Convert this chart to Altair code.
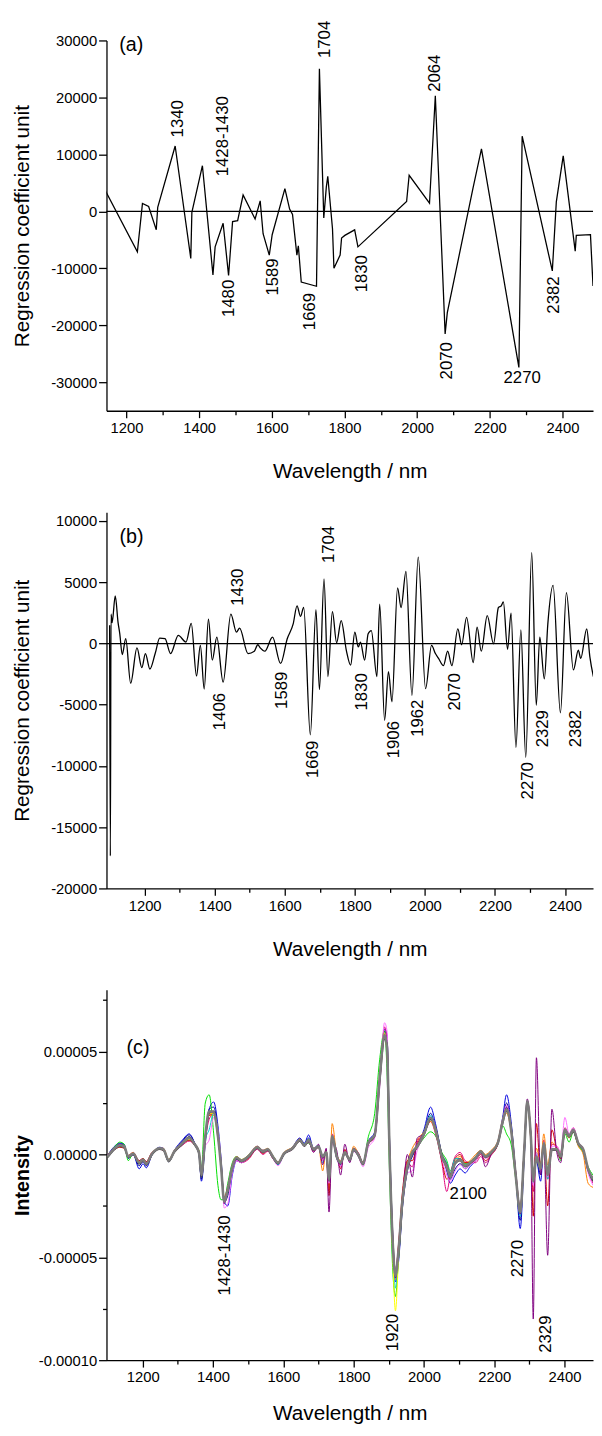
import altair as alt
import pandas as pd

FONT = "Liberation Sans"
MINUS = "\u2212"

# ---------------- Panel (a) ----------------
A_WL = [1140, 1230, 1244, 1261, 1282, 1286, 1334, 1377, 1380, 1409,
        1438, 1444, 1466, 1481, 1492, 1506, 1521, 1554, 1568, 1576,
        1593, 1601, 1636, 1649, 1657, 1669, 1673, 1681, 1723, 1731,
        1743, 1750, 1754, 1767, 1771, 1788, 1792, 1801, 1828, 1837,
        1971, 1978, 2034, 2050, 2077, 2083, 2154, 2177, 2280, 2289,
        2372, 2383, 2402, 2435, 2438, 2477, 2484]
A_VAL = [3860, -7090, 1380, 860, -3240, 690, 11470, -8250, -170, 8010,
         -11140, -6230, -2080, -11250, -1800, -1630, 2870, -1330, 1840, -3930,
         -7680, -4100, 3980, 400, -520, -7680, -6060, -12400, -13150, 25020,
         -1160, 4260, 6160, -3060, -9980, -7680, -4670, -4220, -3240, -6230,
         1730, 6330, 1440, 20290, -21500, -17770, 4150, 10950, -27400, 13200,
         -10450, 1670, 9740, -6980, -4220, -4100, -13100]
A_UP = [("1340", 1343, 12980), ("1428-1430", 1465, 6160),
        ("1704", 1747, 26920), ("2064", 2050, 20980)]
A_DOWN = [("1480", 1482, -12010), ("1589", 1604, -8250), ("1669", 1706, -14310),
          ("1830", 1848, -7680), ("2070", 2083, -22960), ("2382", 2378, -11420)]
A_FLAT = [("2270", 2289, -29300)]
A_TAG = [("(a)", 1180, 29240)]

# ---------------- Panel (b) ----------------
B_WL = [1100, 1102, 1104, 1107, 1116, 1124, 1129, 1136, 1146, 1160,
        1178, 1192, 1202, 1215, 1230, 1243, 1258, 1274, 1296, 1318,
        1333, 1348, 1359, 1370, 1382, 1393, 1406, 1424, 1446, 1462,
        1471, 1495, 1513, 1523, 1530, 1543, 1565, 1588, 1607, 1624,
        1635, 1645, 1654, 1673, 1689, 1699, 1712, 1723, 1736, 1748,
        1761, 1776, 1788, 1800, 1810, 1816, 1828, 1838, 1847, 1863,
        1871, 1885, 1896, 1906, 1922, 1932, 1946, 1963, 1981, 2002,
        2019, 2030, 2039, 2053, 2065, 2077, 2094, 2105, 2119, 2138,
        2149, 2161, 2178, 2196, 2210, 2218, 2224, 2236, 2246, 2260,
        2274, 2288, 2305, 2318, 2328, 2341, 2351, 2366, 2387, 2404,
        2424, 2438, 2445, 2462, 2471, 2481]
B_VAL = [1500, -17350, 2400, 1700, 3880, 1730, 790, -900, 390, -3240,
         -360, -1970, -820, -2080, -820, 440, 390, -820, 660, 120,
         1650, -2650, -150, -3720, 2000, -1350, 520, -3160, 2400, 930,
         1250, -820, -630, -100, -360, -630, 520, -1630, 390, 1600,
         3080, 2220, 2940, -7460, 2760, -3770, 5280, -2700, 2600, 60,
         1870, -600, -1760, 930, -280, 120, -1350, 790, 1060, -2700,
         3210, -6270, -2300, -4770, 4550, 2940, 5900, -4230, 7050, -3690,
         -150, -820, -1220, -1810, -630, -1810, 1190, -100, 2140, -1550,
         1330, -630, 2270, -20, 2940, 3080, 3400, -470, 2480, -8480,
         1110, -9290, 7430, -5040, 520, -2890, 1600, 4740, -5660, 4150,
         -2160, -550, -1220, 1190, -1090, -2700]
B_UP = [("1704", 1726, 6570), ("1430", 1467, 3080)]
B_DOWN = [("1406", 1415, -4040), ("1589", 1591, -2300), ("1669", 1682, -7940),
          ("1830", 1822, -2430), ("1906", 1911, -6330), ("1962", 1981, -4580),
          ("2070", 2087, -2430), ("2270", 2296, -9690), ("2329", 2338, -5440),
          ("2382", 2432, -5440)]
B_TAG = [("(b)", 1128, 8720)]

# ---------------- Panel (c) ----------------  (values in units of 1e-5)
C_WL = [1100, 1117, 1135, 1147, 1159, 1173, 1190, 1201, 1210, 1227,
        1248, 1259, 1274, 1290, 1313, 1332, 1348, 1360, 1367, 1378,
        1389, 1402, 1414, 1423, 1432, 1442, 1455, 1467, 1481, 1500,
        1526, 1542, 1556, 1570, 1585, 1602, 1626, 1647, 1660, 1672,
        1686, 1700, 1712, 1722, 1730, 1739, 1752, 1763, 1775, 1789,
        1800, 1813, 1827, 1841, 1860, 1874, 1888, 1895, 1902, 1911,
        1919, 1928, 1939, 1953, 1967, 1981, 2000, 2019, 2033, 2051,
        2065, 2075, 2089, 2103, 2117, 2131, 2147, 2162, 2175, 2191,
        2210, 2224, 2235, 2248, 2261, 2274, 2285, 2294, 2304, 2311,
        2320, 2332, 2341, 2352, 2364, 2378, 2389, 2401, 2413, 2425,
        2439, 2453, 2467, 2481]
C_SERIES = {
    "blue": [
        -0.05, 0.35, 0.55, 0.50, -0.20, 0.00, -0.70, -0.45, -0.65, 0.00,
        0.35, 0.30, -0.35, 0.20, 0.70, 1.00, 0.55, 0.00, -1.30, 0.50,
        2.20, 2.55, 1.40, -0.20, -2.30, -2.50, -1.00, -0.30, -0.40, -0.15,
        0.40, 0.20, 0.25, -0.15, -0.50, 0.00, 0.35, 0.80, 0.55, 0.95,
        0.30, 0.45, -0.20, 0.05, -1.30, 0.85, -0.20, -0.50, 0.05, -0.30,
        0.20, -0.05, -0.50, 0.60, 1.10, 3.60, 6.10, 5.80, 0.90, -3.80,
        -6.20, -5.20, -2.60, -0.80, -0.10, 0.40, 1.20, 2.30, 1.50, 0.00,
        -0.80, -1.40, -1.00, -0.70, -0.90, -0.60, -0.30, 0.10, -0.15, 0.05,
        0.60, 1.80, 2.90, 1.60, -0.90, -3.60, -0.30, 2.40, 1.00, -1.10,
        -0.30, -1.30, 0.40, -1.00, 0.20, 0.30, -0.20, 1.10, 0.85, 1.10,
        0.50, 0.20, -0.80, -1.30],
    "navy": [
        -0.10, 0.30, 0.50, 0.45, -0.15, 0.00, -0.55, -0.35, -0.55, 0.00,
        0.30, 0.25, -0.35, 0.15, 0.65, 0.95, 0.55, 0.05, -1.20, 0.70,
        2.20, 2.30, 1.10, -0.40, -2.30, -2.00, -0.80, -0.25, -0.35, -0.15,
        0.35, 0.15, 0.20, -0.15, -0.45, 0.00, 0.30, 0.75, 0.50, 0.80,
        0.25, 0.40, -0.15, 0.05, -1.30, 0.85, -0.15, -0.45, 0.05, -0.30,
        0.20, -0.05, -0.45, 0.60, 1.00, 3.70, 6.00, 5.50, 0.60, -4.00,
        -6.00, -5.00, -2.40, -0.70, -0.05, 0.40, 1.10, 2.00, 1.30, 0.00,
        -0.70, -1.20, -0.70, -0.45, -0.70, -0.50, -0.20, 0.10, -0.15, 0.05,
        0.55, 1.70, 2.50, 1.40, -1.00, -3.20, -0.10, 2.50, 1.00, -1.20,
        -0.20, -1.00, 0.45, -1.00, 0.20, 0.25, -0.15, 1.10, 0.85, 1.10,
        0.50, 0.20, -0.80, -1.30],
    "green": [
        -0.10, 0.30, 0.60, 0.50, -0.30, 0.05, -0.35, -0.20, -0.40, 0.05,
        0.30, 0.25, -0.25, 0.15, 0.50, 0.70, 0.45, 0.20, -0.70, 2.50,
        2.90, 1.00, -1.50, -2.20, -2.20, -1.40, -0.40, -0.10, -0.25, -0.05,
        0.35, 0.15, 0.25, -0.05, -0.35, 0.05, 0.30, 0.65, 0.45, 0.55,
        0.25, 0.35, -0.05, 0.10, -1.00, 0.80, -0.05, -0.35, 0.10, -0.20,
        0.30, 0.05, -0.40, 0.80, 2.00, 4.60, 6.00, 4.00, -0.80, -5.50,
        -6.90, -5.00, -2.40, -0.50, 0.15, 0.35, 0.80, 1.10, 0.90, 0.10,
        -0.30, -0.80, -0.20, -0.20, -0.45, -0.35, -0.10, 0.15, -0.05, 0.10,
        0.60, 1.40, 1.00, 0.50, -1.20, -2.90, 0.20, 2.50, 0.80, -0.90,
        0.10, -0.50, 0.45, -0.70, 0.25, 0.30, -0.30, 1.00, 0.60, 1.10,
        0.45, 0.10, -0.60, -1.00],
    "deeppink": [
        -0.05, 0.20, 0.40, 0.35, -0.05, 0.10, -0.30, -0.20, -0.35, 0.10,
        0.25, 0.20, -0.30, 0.10, 0.45, 0.65, 0.45, 0.15, -0.90, 0.70,
        1.70, 2.00, 1.00, -0.50, -2.10, -1.60, -0.70, -0.30, -0.40, -0.25,
        0.25, 0.00, 0.15, -0.20, -0.45, 0.00, 0.25, 0.65, 0.40, 0.60,
        0.15, 0.35, -0.20, 0.20, -1.50, 1.00, 0.00, -0.60, 0.20, -0.30,
        0.30, 0.10, -0.40, 0.45, 0.85, 3.40, 6.20, 5.60, 0.50, -4.00,
        -5.60, -4.40, -2.00, -0.40, -0.60, 0.60, 1.00, 1.60, 1.00, -0.40,
        -1.80, -1.00, -0.10, 0.10, -0.30, -0.40, -0.40, -0.10, -0.40, -0.05,
        0.50, 1.60, 2.30, 1.30, -0.80, -2.60, 0.20, 2.50, 1.00, -1.80,
        0.00, -0.60, 0.70, -1.20, 0.50, 0.40, 0.10, 1.30, 1.00, 1.30,
        0.60, 0.30, -0.80, -1.40],
    "orange": [
        -0.05, 0.30, 0.45, 0.40, -0.05, 0.10, -0.35, -0.20, -0.40, 0.10,
        0.30, 0.30, -0.25, 0.20, 0.55, 0.75, 0.50, 0.15, -0.80, 0.90,
        1.90, 1.90, 0.80, -0.50, -2.10, -1.60, -0.50, -0.10, -0.25, -0.05,
        0.40, 0.20, 0.30, -0.05, -0.35, 0.10, 0.35, 0.75, 0.45, 0.70,
        0.30, 0.40, -0.80, 0.20, -1.80, 1.50, 0.00, -0.30, 0.15, -0.20,
        0.40, 0.05, -0.40, 0.55, 1.00, 3.80, 5.70, 5.00, 0.20, -4.40,
        -6.10, -4.50, -2.00, -0.40, 0.30, 0.70, 1.10, 1.60, 1.10, -0.10,
        -0.70, -0.90, -0.30, -0.10, -0.40, -0.30, 0.00, 0.20, 0.00, 0.20,
        0.65, 1.70, 2.00, 1.10, -1.10, -2.70, 0.20, 2.50, 0.70, -1.00,
        0.30, -0.40, 1.00, -0.50, 0.60, 0.30, 0.10, 1.10, 0.80, 1.10,
        0.40, 0.00, -1.40, -1.60],
    "red": [
        -0.05, 0.20, 0.35, 0.30, -0.05, 0.05, -0.30, -0.20, -0.35, 0.10,
        0.25, 0.20, -0.25, 0.15, 0.50, 0.70, 0.45, 0.10, -0.90, 0.85,
        1.90, 2.00, 0.95, -0.50, -2.20, -1.65, -0.65, -0.20, -0.35, -0.20,
        0.30, 0.05, 0.20, -0.15, -0.40, 0.05, 0.30, 0.65, 0.45, 0.65,
        0.20, 0.40, -0.30, 0.20, -2.00, 0.70, 0.05, -0.70, 0.25, -0.30,
        0.25, 0.05, -0.40, 0.50, 0.90, 3.50, 5.70, 5.30, 0.40, -4.10,
        -5.80, -4.30, -1.80, -0.30, -0.30, 0.50, 1.00, 1.70, 1.10, -0.30,
        -1.20, -1.00, -0.20, 0.00, -0.40, -0.40, -0.30, 0.00, -0.30, 0.00,
        0.50, 1.60, 2.20, 1.20, -1.00, -2.70, 0.20, 2.60, 0.70, -3.00,
        1.50, -0.80, 0.50, -2.50, 1.20, 0.20, -0.20, 1.20, 0.90, 1.20,
        0.55, 0.25, -0.70, -1.20],
    "cyan": [
        -0.10, 0.30, 0.45, 0.40, -0.15, 0.05, -0.45, -0.30, -0.45, 0.05,
        0.30, 0.25, -0.30, 0.15, 0.60, 0.85, 0.50, 0.05, -1.10, 0.70,
        1.20, 2.00, 1.10, -0.40, -2.20, -1.80, -0.70, -0.20, -0.30, -0.10,
        0.35, 0.15, 0.25, -0.10, -0.50, 0.00, 0.30, 0.70, 0.50, 0.75,
        0.25, 0.40, -0.40, 0.10, -1.30, 0.85, -0.10, -0.45, 0.10, -0.25,
        0.25, 0.00, -0.45, 0.55, 0.95, 3.60, 5.90, 5.30, 0.40, -4.20,
        -6.50, -4.80, -2.20, -0.60, 0.00, 0.40, 1.00, 1.90, 1.20, 0.00,
        -0.40, -0.90, -0.20, -0.20, -0.50, -0.40, -0.15, 0.15, -0.10, 0.10,
        0.55, 1.60, 2.30, 1.30, -1.00, -3.00, 0.00, 2.60, 0.90, -1.40,
        0.00, -0.80, 0.50, -1.20, 0.30, 0.25, -0.10, 1.20, 0.90, 1.20,
        0.55, 0.25, -0.80, -1.30],
    "violet": [
        -0.05, 0.25, 0.40, 0.35, -0.10, 0.05, -0.40, -0.25, -0.45, 0.05,
        0.30, 0.25, -0.30, 0.15, 0.55, 0.80, 0.50, 0.10, -1.00, 0.40,
        0.70, 1.80, 1.20, -0.30, -2.60, -2.40, -0.90, -0.30, -0.40, -0.15,
        0.30, 0.10, 0.20, -0.15, -0.55, 0.00, 0.25, 0.70, 0.40, 0.70,
        0.20, 0.40, -0.30, 0.10, -1.40, 0.70, -0.20, -0.60, 0.10, -0.35,
        0.15, -0.10, -0.60, 0.30, 0.80, 3.20, 6.40, 6.00, 0.80, -3.80,
        -5.60, -4.60, -2.40, -0.90, -0.80, 0.20, 0.90, 1.80, 1.30, -0.20,
        -1.00, -1.30, -0.80, -0.50, -0.70, -0.50, -0.30, 0.05, -0.20, 0.05,
        0.60, 1.70, 2.40, 1.30, -0.90, -2.90, 0.00, 2.60, 1.00, -1.50,
        0.10, -0.80, 0.60, -1.10, 0.40, 0.40, 0.10, 1.80, 1.00, 1.30,
        0.60, 0.20, -0.90, -1.50],
    "purple": [
        0.00, 0.25, 0.50, 0.40, -0.10, 0.05, -0.45, -0.30, -0.45, 0.05,
        0.30, 0.25, -0.30, 0.15, 0.60, 0.85, 0.50, 0.10, -1.10, 0.80,
        2.00, 2.10, 0.90, -0.60, -2.40, -1.80, -0.60, -0.15, -0.30, -0.10,
        0.35, 0.15, 0.25, -0.10, -0.45, 0.05, 0.30, 0.70, 0.40, 0.60,
        0.10, 0.50, -0.50, 0.30, -2.80, 0.60, 0.20, -1.00, 0.50, -0.40,
        0.30, 0.05, -0.45, 0.50, 0.90, 3.60, 5.90, 5.30, 0.40, -4.20,
        -6.00, -4.70, -2.20, 0.00, -1.10, 0.80, 1.00, 1.70, 1.20, -0.20,
        -0.60, -1.10, -0.40, -0.20, -0.60, -0.40, -0.20, 0.10, -0.60, 0.00,
        0.55, 1.60, 2.30, 1.20, -1.00, -2.90, 0.30, 2.70, 0.50, -8.00,
        4.70, -1.00, 0.50, -4.90, 2.20, 0.10, -0.40, 1.20, 0.90, 1.20,
        0.55, 0.25, -0.70, -1.20],
    "yellow": [
        -0.10, 0.25, 0.40, 0.35, -0.10, 0.05, -0.35, -0.25, -0.40, 0.05,
        0.30, 0.25, -0.30, 0.15, 0.55, 0.75, 0.50, 0.15, -0.90, 0.90,
        2.00, 2.00, 0.90, -0.55, -2.20, -1.70, -0.60, -0.15, -0.30, -0.10,
        0.35, 0.15, 0.25, -0.10, -0.40, 0.05, 0.30, 0.70, 0.45, 0.65,
        0.25, 0.40, -0.10, 0.10, -1.10, 0.90, -0.10, -0.40, 0.10, -0.25,
        0.25, 0.00, -0.45, 0.55, 1.00, 3.80, 5.90, 5.00, 0.00, -4.80,
        -7.60, -5.00, -2.30, -0.60, 0.10, 0.40, 0.95, 1.70, 1.10, -0.10,
        -0.50, -1.00, -0.40, -0.30, -0.55, -0.40, -0.15, 0.15, -0.10, 0.10,
        0.55, 1.60, 2.10, 1.20, -1.00, -2.70, 0.10, 2.50, 0.90, -1.20,
        -0.10, -0.70, 0.55, -1.00, 0.25, 0.25, -0.10, 1.20, 0.90, 1.20,
        0.55, 0.25, -0.70, -1.20],
}
C_COLORS = {"blue": "#0000E0", "navy": "#000090", "green": "#00E000",
            "deeppink": "#E0007A", "orange": "#FF8000", "red": "#D00000",
            "cyan": "#00D0D0", "violet": "#FF70FF", "purple": "#800080",
            "yellow": "#FFFF00"}
C_DARK = [
    -0.15, 0.20, 0.40, 0.35, -0.15, 0.00, -0.45, -0.30, -0.50, 0.00,
    0.25, 0.20, -0.35, 0.10, 0.50, 0.85, 0.45, 0.05, -1.10, 0.80,
    2.00, 2.10, 1.00, -0.50, -2.20, -1.80, -0.70, -0.20, -0.35, -0.15,
    0.30, 0.10, 0.20, -0.15, -0.45, 0.00, 0.25, 0.65, 0.40, 0.65,
    0.20, 0.35, -0.15, 0.05, -1.30, 0.80, -0.15, -0.45, 0.05, -0.30,
    0.20, -0.05, -0.50, 0.50, 0.90, 3.50, 5.60, 5.40, 0.60, -3.90,
    -5.70, -4.80, -2.40, -0.70, 0.00, 0.35, 0.95, 1.70, 1.30, 0.00,
    -0.50, -1.00, -0.45, -0.30, -0.60, -0.45, -0.20, 0.10, -0.15, 0.05,
    0.50, 1.50, 2.10, 1.30, -0.90, -2.70, 0.00, 2.50, 1.00, -1.20,
    -0.20, -0.60, 0.45, -0.90, 0.20, 0.20, -0.15, 1.10, 0.85, 1.10,
    0.50, 0.20, -0.75, -1.30]
C_GRAY = [
    -0.10, 0.25, 0.45, 0.40, -0.10, 0.05, -0.40, -0.25, -0.45, 0.05,
    0.30, 0.25, -0.30, 0.15, 0.55, 0.80, 0.50, 0.10, -1.00, 0.90,
    2.10, 2.05, 0.90, -0.60, -2.30, -1.70, -0.60, -0.15, -0.30, -0.10,
    0.35, 0.15, 0.25, -0.10, -0.40, 0.05, 0.30, 0.70, 0.45, 0.70,
    0.25, 0.40, -0.10, 0.10, -1.20, 0.90, -0.10, -0.40, 0.10, -0.25,
    0.25, 0.00, -0.45, 0.55, 0.95, 3.70, 5.80, 5.20, 0.30, -4.20,
    -5.90, -4.60, -2.20, -0.60, 0.10, 0.40, 1.00, 1.80, 1.20, -0.10,
    -0.60, -1.10, -0.40, -0.25, -0.55, -0.40, -0.15, 0.15, -0.10, 0.10,
    0.55, 1.60, 2.20, 1.20, -1.00, -2.80, 0.10, 2.60, 0.90, -1.30,
    -0.10, -0.70, 0.55, -1.00, 0.25, 0.25, -0.10, 1.20, 0.90, 1.20,
    0.55, 0.25, -0.70, -1.20]
C_UNIT = 1e-5
C_DOWN = [("1428-1430", 1434, -2.96), ("1920", 1911, -7.75),
          ("2270", 2268, -4.16), ("2329", 2347, -7.83)]
C_FLAT = [("2100", 2126, -1.92)]
C_TAG = [("(c)", 1154, 5.19)]

X_TICKS = list(range(1200, 2401, 100))
W = 494


def ann_df(rows, scale=1.0):
    return pd.DataFrame({"label": [r[0] for r in rows],
                         "wl": [r[1] for r in rows],
                         "val": [r[2] * scale for r in rows]})


def text_layer(rows, align, angle, size=17, scale=1.0):
    return alt.Chart(ann_df(rows, scale)).mark_text(
        align=align, baseline="middle", angle=angle, fontSize=size,
        font=FONT, color="black").encode(x="wl:Q", y="val:Q", text="label:N")


def cond_size(test, major, minor):
    return {"condition": {"test": test, "value": major}, "value": minor}


def x_enc(dom, title_pad):
    return alt.X("wl:Q", scale=alt.Scale(domain=dom, nice=False, zero=False),
                 axis=alt.Axis(values=X_TICKS, format="d", title="Wavelength / nm",
                               labelExpr="datum.value % 200 === 0 ? datum.label : ''",
                               tickSize=cond_size("datum.value % 200 === 0", 7, 4),
                               labelPadding=3, titlePadding=title_pad))


def y_int_axis(step_major, step_minor, lo, hi, title, tpad):
    return alt.Axis(values=list(range(lo, hi + 1, step_minor)), format="d",
                    labelExpr="datum.value %% %d === 0 ? replace(datum.label, '%s', '-') : ''" % (step_major, MINUS),
                    tickSize=cond_size("datum.value %% %d === 0" % step_major, 8, 4),
                    labelPadding=2, title=title, titlePadding=tpad)


# ---- panel (a)
a_df = pd.DataFrame({"wl": A_WL, "val": A_VAL})
a_y = alt.Y("val:Q", scale=alt.Scale(domain=[-35000, 30000], nice=False, zero=False),
            axis=y_int_axis(10000, 5000, -30000, 30000, "Regression coefficient unit", 18))
a_line = alt.Chart(a_df).mark_line(color="black", strokeWidth=1.3, clip=True).encode(
    x=x_enc([1145, 2484], 26), y=a_y)
a_zero = alt.Chart(pd.DataFrame({"val": [0]})).mark_rule(color="black", strokeWidth=1.3).encode(y="val:Q")
panel_a = alt.layer(
    a_line, a_zero,
    text_layer(A_UP, "left", 270), text_layer(A_DOWN, "right", 270),
    text_layer(A_FLAT, "center", 0), text_layer(A_TAG, "left", 0, size=20),
).properties(width=W, height=376)

# ---- panel (b)
b_df = pd.DataFrame({"wl": B_WL, "val": B_VAL})
b_y = alt.Y("val:Q", scale=alt.Scale(domain=[-20000, 10723], nice=False, zero=False),
            axis=y_int_axis(5000, 2500, -20000, 10000, "Regression coefficient unit", 18))
b_line = alt.Chart(b_df).mark_line(color="black", strokeWidth=1.3, clip=True,
                                   interpolate="monotone").encode(
    x=x_enc([1091, 2480], 26), y=b_y)
b_zero = alt.Chart(pd.DataFrame({"val": [0]})).mark_rule(color="black", strokeWidth=1.3).encode(y="val:Q")
panel_b = alt.layer(
    b_line, b_zero,
    text_layer(B_UP, "left", 270), text_layer(B_DOWN, "right", 270),
    text_layer(B_TAG, "left", 0, size=20),
).properties(width=W, height=382)

# ---- panel (c)
rows = []
for name, vals in C_SERIES.items():
    for w, v in zip(C_WL, vals):
        rows.append({"wl": w, "val": v * C_UNIT, "series": name})
c_df = pd.DataFrame(rows)
names = list(C_SERIES.keys())
c_y = alt.Y("val:Q", scale=alt.Scale(domain=[-0.0001, 0.00008], nice=False, zero=False),
            axis=alt.Axis(values=[-0.0001, -0.000075, -0.00005, -0.000025, 0.0,
                                  0.000025, 0.00005, 0.000075],
                          format=".5f",
                          labelExpr="abs(datum.value * 20000 - round(datum.value * 20000)) < 0.001 ? replace(datum.label, '%s', '-') : ''" % MINUS,
                          tickSize=cond_size("abs(datum.value * 20000 - round(datum.value * 20000)) < 0.001", 8, 4),
                          labelPadding=2, title="Intensity", titlePadding=6,
                          titleFontWeight="bold", titleFontSize=20))
c_lines = alt.Chart(c_df).mark_line(strokeWidth=1, clip=True, interpolate="monotone").encode(
    x=x_enc([1097, 2481], 18), y=c_y,
    color=alt.Color("series:N", scale=alt.Scale(domain=names, range=[C_COLORS[n] for n in names]),
                    legend=None))
c_dark = alt.Chart(pd.DataFrame({"wl": C_WL, "val": [v * C_UNIT for v in C_DARK]})).mark_line(
    color="#474747", strokeWidth=1.5, clip=True, interpolate="monotone").encode(x="wl:Q", y="val:Q")
c_gray = alt.Chart(pd.DataFrame({"wl": C_WL, "val": [v * C_UNIT for v in C_GRAY]})).mark_line(
    color="#7c7c7c", strokeWidth=2.6, clip=True, interpolate="monotone").encode(x="wl:Q", y="val:Q")
panel_c = alt.layer(
    c_lines, c_dark, c_gray,
    text_layer(C_DOWN, "right", 270, scale=C_UNIT), text_layer(C_FLAT, "center", 0, scale=C_UNIT),
    text_layer(C_TAG, "left", 0, size=20, scale=C_UNIT),
).properties(width=W, height=376)

chart = alt.vconcat(panel_a, panel_b, panel_c, spacing=103, bounds="flush").properties(
    padding={"left": 4, "top": 1, "right": 0, "bottom": 0}
).configure_view(stroke=None).configure_axis(
    domainColor="black", tickColor="black", labelColor="black", titleColor="black",
    domainWidth=1.3, tickWidth=1.3, labelFontSize=15, titleFontSize=21,
    titleFontWeight="normal", grid=False, labelFont=FONT, titleFont=FONT
)

chart.save("out.html", embed_options={"renderer": "svg", "actions": False})
